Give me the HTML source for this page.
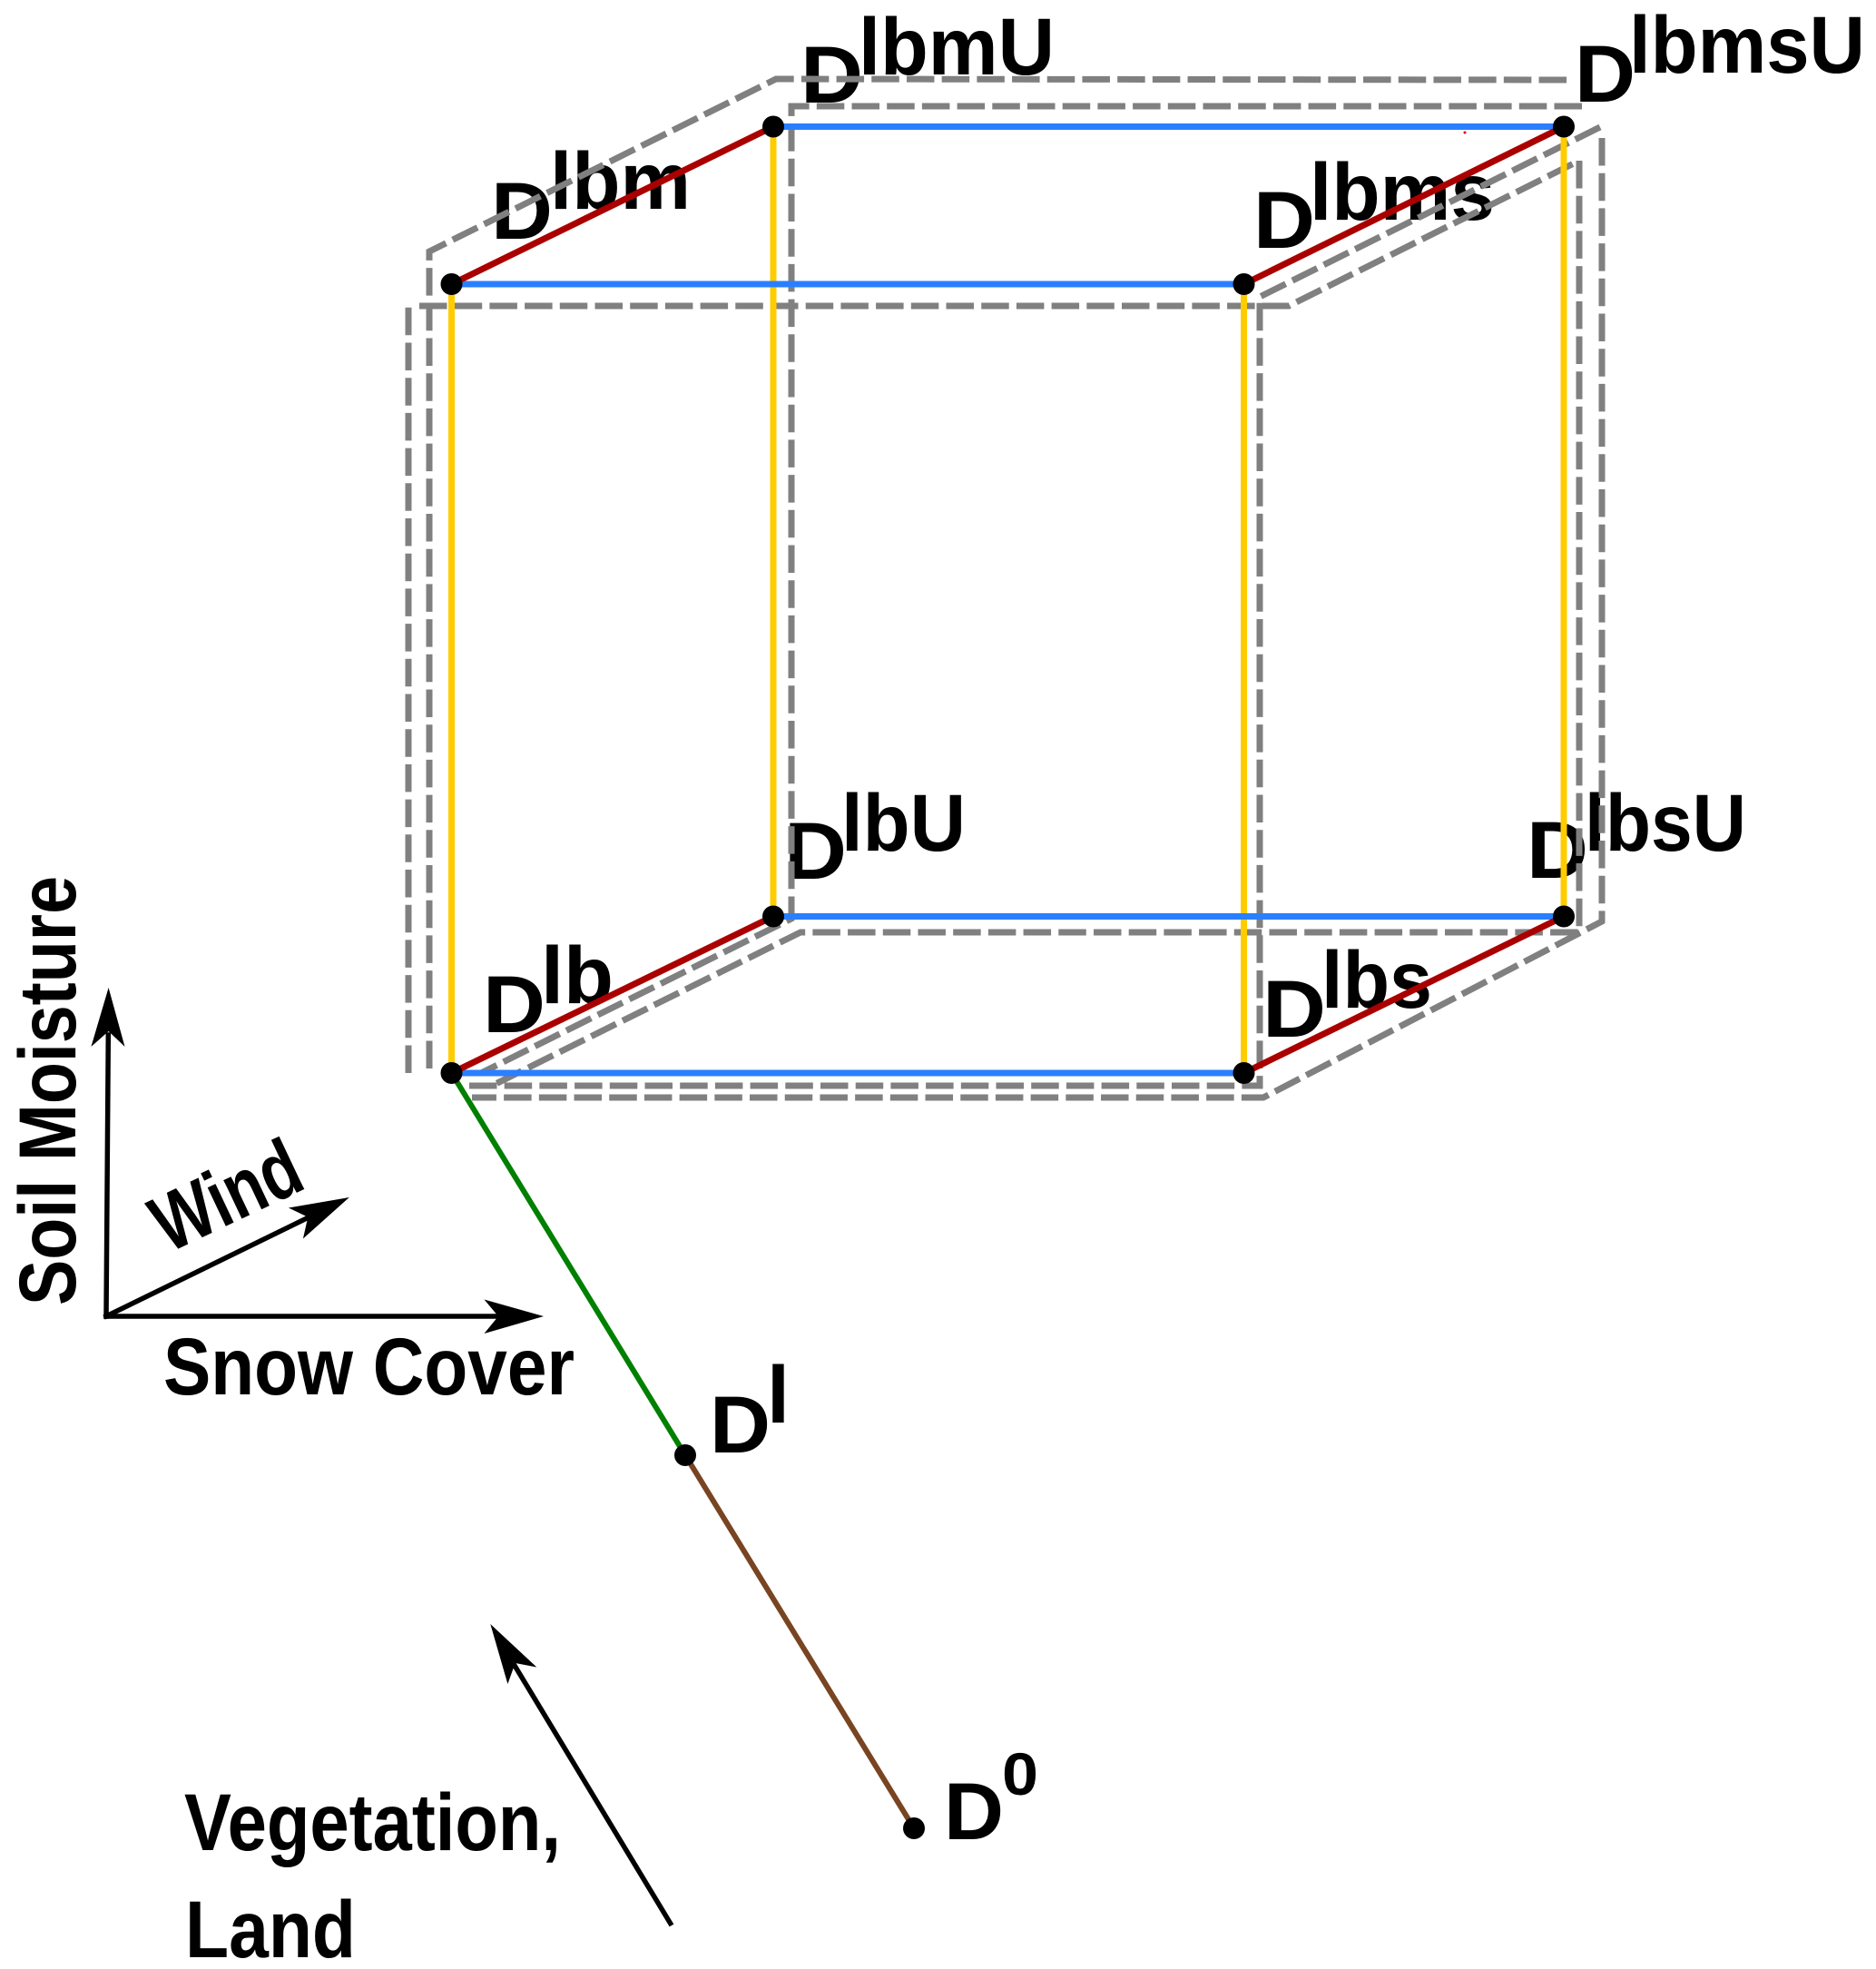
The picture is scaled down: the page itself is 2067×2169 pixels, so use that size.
<!DOCTYPE html>
<html>
<head>
<meta charset="utf-8">
<style>
  html, body { margin: 0; padding: 0; background: #fff; }
  svg { display: block; }
</style>
</head>
<body>
<svg xmlns="http://www.w3.org/2000/svg" width="2067" height="2169" viewBox="0 0 2067 2169">
  <rect x="0" y="0" width="2067" height="2169" fill="#ffffff"/>

  <!-- Labels -->
  <g font-family="'Liberation Sans', Arial, Helvetica, sans-serif" font-weight="bold" font-size="89" fill="#000">
    <!-- D lbm -->
    <text x="541" y="263" textLength="68" lengthAdjust="spacingAndGlyphs">D</text>
    <text x="606" y="230" textLength="155" lengthAdjust="spacingAndGlyphs">lbm</text>
    <!-- D lbmU -->
    <text x="882" y="113" textLength="69" lengthAdjust="spacingAndGlyphs">D</text>
    <text x="946" y="82" textLength="216" lengthAdjust="spacingAndGlyphs">lbmU</text>
    <!-- D lbms -->
    <text x="1381" y="273" textLength="68" lengthAdjust="spacingAndGlyphs">D</text>
    <text x="1443" y="242" textLength="204" lengthAdjust="spacingAndGlyphs">lbms</text>
    <!-- D lbmsU -->
    <text x="1735" y="112" textLength="67" lengthAdjust="spacingAndGlyphs">D</text>
    <text x="1795" y="80" textLength="260" lengthAdjust="spacingAndGlyphs">lbmsU</text>
    <!-- D lbU -->
    <text x="864" y="968" textLength="69" lengthAdjust="spacingAndGlyphs">D</text>
    <text x="927" y="937" textLength="137" lengthAdjust="spacingAndGlyphs">lbU</text>
    <!-- D lbsU -->
    <text x="1682" y="967" textLength="68" lengthAdjust="spacingAndGlyphs">D</text>
    <text x="1746" y="937" textLength="178" lengthAdjust="spacingAndGlyphs">lbsU</text>
    <!-- D lb -->
    <text x="532" y="1137" textLength="69" lengthAdjust="spacingAndGlyphs">D</text>
    <text x="596" y="1105" textLength="80" lengthAdjust="spacingAndGlyphs">lb</text>
    <!-- D lbs -->
    <text x="1391" y="1142" textLength="70" lengthAdjust="spacingAndGlyphs">D</text>
    <text x="1456" y="1110" textLength="122" lengthAdjust="spacingAndGlyphs">lbs</text>
    <!-- D l -->
    <text x="782" y="1600" textLength="67" lengthAdjust="spacingAndGlyphs">D</text>
    <text x="845" y="1567" textLength="25" lengthAdjust="spacingAndGlyphs">l</text>
    <!-- D 0 -->
    <text x="1040" y="2026" textLength="66" lengthAdjust="spacingAndGlyphs">D</text>
    <text x="1104" y="1977" font-size="66" textLength="40" lengthAdjust="spacingAndGlyphs">0</text>

    <!-- Axis labels -->
    <text transform="translate(83,1438) rotate(-90)" textLength="473" lengthAdjust="spacingAndGlyphs">Soil Moisture</text>
    <text transform="translate(185,1381) rotate(-25.3)" textLength="171" lengthAdjust="spacingAndGlyphs">Wind</text>
    <text x="180" y="1536" textLength="453" lengthAdjust="spacingAndGlyphs">Snow Cover</text>
    <text x="203" y="2038" textLength="415" lengthAdjust="spacingAndGlyphs">Vegetation,</text>
    <text x="204" y="2156" textLength="188" lengthAdjust="spacingAndGlyphs">Land</text>
  </g>

  <!-- Gray dashed box outlines -->
  <g fill="none" stroke="#808080" stroke-width="7" stroke-dasharray="30.5 8.2" stroke-linejoin="miter">
    <polyline points="450,1182 450,332"/>
    <polyline points="473,1177 473,277 855,87 1727,88"/>
    <polyline points="1743,117 872,117 872,1012 530,1182"/>
    <polyline points="462,337 1420,337 1740,177 1740,1027 882,1027 542,1196"/>
    <polyline points="517,1196 1388,1196 1388,327 1767,138"/>
    <polyline points="1765,152 1765,1015 1392,1209 520,1209"/>
  </g>

  <!-- Cube edges -->
  <g fill="none" stroke-width="7" stroke-linecap="butt">
    <!-- yellow verticals -->
    <line x1="497.5" y1="313" x2="497.5" y2="1182" stroke="#ffcc00"/>
    <line x1="852" y1="139.5" x2="852" y2="1009.5" stroke="#ffcc00"/>
    <line x1="1370.5" y1="313" x2="1370.5" y2="1182" stroke="#ffcc00"/>
    <line x1="1723" y1="139.5" x2="1723" y2="1009.5" stroke="#ffcc00"/>
    <!-- blue horizontals -->
    <line x1="497.5" y1="313" x2="1370.5" y2="313" stroke="#2a7fff"/>
    <line x1="852" y1="139.5" x2="1723" y2="139.5" stroke="#2a7fff"/>
    <line x1="497.5" y1="1182" x2="1370.5" y2="1182" stroke="#2a7fff"/>
    <line x1="852" y1="1009.5" x2="1723" y2="1009.5" stroke="#2a7fff"/>
    <!-- red diagonals -->
    <line x1="497.5" y1="313" x2="852" y2="139.5" stroke="#aa0000"/>
    <line x1="1370.5" y1="313" x2="1723" y2="139.5" stroke="#aa0000"/>
    <line x1="497.5" y1="1182" x2="852" y2="1009.5" stroke="#aa0000"/>
    <line x1="1370.5" y1="1182" x2="1723" y2="1009.5" stroke="#aa0000"/>
  </g>

  <!-- Green and brown path -->
  <line x1="497.5" y1="1182" x2="755" y2="1603" stroke="#008000" stroke-width="6"/>
  <line x1="755" y1="1603" x2="1007" y2="2014" stroke="#784421" stroke-width="6"/>

  <!-- Nodes -->
  <g fill="#000">
    <circle cx="497.5" cy="313" r="12"/>
    <circle cx="852" cy="139.5" r="12"/>
    <circle cx="1370.5" cy="313" r="12"/>
    <circle cx="1723" cy="139.5" r="12"/>
    <circle cx="497.5" cy="1182" r="12"/>
    <circle cx="852" cy="1009.5" r="12"/>
    <circle cx="1370.5" cy="1182" r="12"/>
    <circle cx="1723" cy="1009.5" r="12"/>
    <circle cx="755" cy="1603" r="12"/>
    <circle cx="1007" cy="2014" r="12"/>
  </g>
  <circle cx="1614" cy="146" r="1.5" fill="#e00"/>

  <!-- Axis arrows -->
  <g stroke="#000" stroke-width="5.5" fill="none" stroke-linecap="square">
    <line x1="117" y1="1450" x2="119.3" y2="1140"/>
    <line x1="117" y1="1450" x2="550" y2="1450"/>
    <line x1="117" y1="1450" x2="340" y2="1341"/>
  </g>
  <g fill="#000">
    <polygon points="119.6,1088 137.5,1153 119.6,1136 100.4,1153"/>
    <polygon points="599,1450 533.5,1469 549,1450 533.5,1431.5"/>
    <polygon points="384.8,1319 333.9,1364.5 339.3,1340.8 317.9,1330.5"/>
  </g>

  <!-- Vegetation arrow -->
  <line x1="740" y1="2121" x2="566" y2="1833" stroke="#000" stroke-width="5.5"/>
  <polygon points="540.3,1789 591.3,1836.5 567.7,1832 559.4,1855" fill="#000"/>
</svg>
</body>
</html>
